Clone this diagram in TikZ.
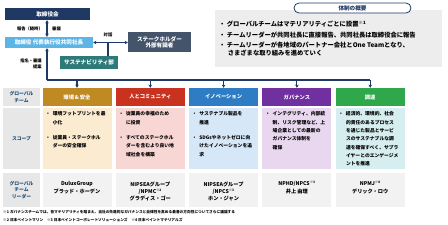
\documentclass[tikz,border=0pt]{standalone}
\usepackage{fontspec}
\setmainfont{Noto Sans CJK JP}
\usetikzlibrary{arrows.meta,calc}
\definecolor{navy}{HTML}{1F3864}
\definecolor{presblue}{HTML}{5BB5E6}
\definecolor{stakegray}{HTML}{44546A}
\definecolor{susteal}{HTML}{2E7A78}
\definecolor{boxgray}{HTML}{EDEDED}
\definecolor{labgray}{HTML}{E7E7E7}
\definecolor{leadgray}{HTML}{F2F2F2}
\definecolor{labtext}{HTML}{1F4E79}
\definecolor{cA}{HTML}{C08A22}
\definecolor{cB}{HTML}{C9321F}
\definecolor{cC}{HTML}{2E7DC4}
\definecolor{cD}{HTML}{7030A0}
\definecolor{cE}{HTML}{2EA84A}
\definecolor{pA}{HTML}{FBEBD0}
\definecolor{pB}{HTML}{F8D6D3}
\definecolor{pC}{HTML}{D6E7F7}
\definecolor{pD}{HTML}{E8D7EE}
\definecolor{pE}{HTML}{D6EEEF}
\newcommand{\scp}[1]{\begin{tabular}{@{}l@{\hspace{2.5pt}}l@{}}#1\end{tabular}}
\begin{document}
\begin{tikzpicture}[x=1pt,y=-1pt,
  box/.style={rectangle,inner sep=0pt,text=white,font=\fontsize{5.6}{6.6}\selectfont\bfseries,align=center},
  conn/.style={draw=navy,line width=1.1pt},
  arr/.style={conn,-{Stealth[length=3.2pt,width=3.6pt]}},
  darr/.style={conn,{Stealth[length=3.2pt,width=3.6pt]}-{Stealth[length=3.2pt,width=3.6pt]}},
  lbl/.style={inner sep=0pt,font=\fontsize{4.3}{5.5}\selectfont\bfseries,text=black},
  head/.style={rectangle,inner sep=0pt,minimum width=69pt,minimum height=18pt,text=white,font=\fontsize{5.3}{6.3}\selectfont\bfseries},
  scopebg/.style={rectangle,inner sep=0pt,minimum width=69pt,minimum height=61pt},
  scopetxt/.style={inner sep=0pt,anchor=north west,font=\fontsize{4.8}{8.3}\selectfont\bfseries,text=black},
  lead/.style={rectangle,inner sep=0pt,minimum width=69pt,minimum height=34pt,fill=leadgray},
  leadtxt/.style={inner sep=0pt,anchor=north,align=center,font=\fontsize{5.2}{7.4}\selectfont\bfseries,text=black},
  labc/.style={rectangle,inner sep=0pt,minimum width=37pt,fill=labgray,align=center,text=labtext,font=\fontsize{4.8}{6.4}\selectfont\bfseries},
  foot/.style={inner sep=0pt,anchor=west,font=\fontsize{3.7}{4.5}\selectfont\bfseries,text=black}
]
\useasboundingbox (0,0) rectangle (448,225);
% top left governance
\node[box,fill=navy,minimum width=85pt,minimum height=12pt] (board) at (47.5,14) {取締役会};
\node[box,fill=presblue,minimum width=88pt,minimum height=11pt] (pres) at (49,42.5) {取締役\ 代表執行役共同社長};
\node[box,fill=stakegray,minimum width=63pt,minimum height=20pt] (stake) at (159.5,42.2) {ステークホルダー\\外部有識者};
\node[box,fill=susteal,minimum width=58pt,minimum height=13pt] (sust) at (89,62.5) {サステナビリティ部};
\draw[darr] (board.south -| 47,0) -- (pres.north -| 47,0);
\node[lbl,anchor=east] (lrep) at (43,28.5) {報告（随時）};
\node[lbl,anchor=west] (ldel) at (52,28.5) {審議};
\coordinate (dlg) at (108,42.5);
\draw[darr] (pres.east) -- (pres.east -| stake.west);
\draw[conn] (dlg) -- (dlg |- sust.north);
\node[lbl] (ltalk) at (108,35) {対話};
\node[lbl,anchor=north east,align=right] (lnom) at (42,59) {指名・審議\\提案};
% bus
\coordinate (bus0) at (47,80);
\coordinate (bus5) at (370.2,80);
\draw[arr] (bus0) -- (bus0 |- pres.south);
\draw[conn] (bus0) -- (bus5);
% overview box
\node[rectangle,fill=boxgray,inner sep=0pt,minimum width=227pt,minimum height=57pt,anchor=north west] (ovbox) at (215,10) {};
\node[rectangle,rounded corners=5pt,draw=navy,line width=0.8pt,fill=white,minimum width=117pt,minimum height=10pt,inner sep=0pt,text=navy,font=\fontsize{5.6}{6.6}\selectfont\bfseries] (ovhead) at (352.5,8) {体制の概要};
\node[inner sep=0pt,anchor=north west,align=left,font=\fontsize{6.3}{7.3}\selectfont\bfseries] (ovtext) at (219,21) {%
・\ グローバルチームはマテリアリティごとに設置\textsuperscript{※1}\\[3.1pt]
・\ チームリーダーが共同社長に直接報告、共同社長は取締役会に報告\\[3.1pt]
・\ チームリーダーが各地域のパートナー会社とOne Teamとなり、\\
\hspace*{8.6pt}さまざまな取り組みを進めていく};
% label column
\node[labc,minimum height=18pt] (lab1) at (21.5,97) {グローバル\\チーム};
\node[labc,minimum height=61pt] (lab2) at (21.5,138.5) {スコープ};
\node[labc,minimum height=34pt] (lab3) at (21.5,190) {グローバル\\チーム\\リーダー};
% headers
\node[head,fill=cA] (h1) at (77,97) {環境\,\&\,安全};
\node[head,fill=cB] (h2) at (150.3,97) {人とコミュニティ};
\node[head,fill=cC] (h3) at (223.6,97) {イノベーション};
\node[head,fill=cD] (h4) at (296.9,97) {ガバナンス};
\node[head,fill=cE] (h5) at (370.2,97) {調達};
\foreach \h in {h1,h2,h3,h4,h5} \draw[arr] (\h.north |- bus0) -- (\h.north);
% scope
\node[scopebg,fill=pA] (s1) at (77,138.5) {};
\node[scopebg,fill=pB] (s2) at (150.3,138.5) {};
\node[scopebg,fill=pC] (s3) at (223.6,138.5) {};
\node[scopebg,fill=pD] (s4) at (296.9,138.5) {};
\node[scopebg,fill=pE] (s5) at (370.2,138.5) {};
\node[scopetxt] (t1) at ($(s1.north west)+(3,2)$) {\fontsize{4.8}{8.3}\selectfont\scp{・&環境フットプリントを最\\&小化\\[7pt]・&従業員・ステークホル\\&ダーの安全確保}};
\node[scopetxt] (t2) at ($(s2.north west)+(3,2)$) {\fontsize{4.8}{8.3}\selectfont\scp{・&従業員の幸福のため\\&に投資\\[7pt]・&すべてのステークホル\\&ダーを含むより良い地\\&域社会を構築}};
\node[scopetxt] (t3) at ($(s3.north west)+(3,2)$) {\fontsize{4.8}{8.3}\selectfont\scp{・&サステナブル製品を\\&推進\\[7pt]・&SDGsやネットゼロに向\\&けたイノベーションを追\\&求}};
\node[scopetxt] (t4) at ($(s4.north west)+(3,2)$) {\fontsize{4.8}{8.3}\selectfont\scp{・&インテグリティ、内部統\\&制、リスク管理など、上\\&場企業としての最新の\\&ガバナンス体制を\\&確保}};
\node[scopetxt] (t5) at ($(s5.north west)+(3,2)$) {\fontsize{4.8}{8.3}\selectfont\scp{・&経済的、環境的、社会\\&的責任のあるプロセス\\&を通じた製品とサービ\\&スのサステナブルな調\\&達を確保すべく、サプラ\\&イヤーとのエンゲージメ\\&ントを推進}};
% leaders
\node[lead] (l1) at (77,190) {};
\node[lead] (l2) at (150.3,190) {};
\node[lead] (l3) at (223.6,190) {};
\node[lead] (l4) at (296.9,190) {};
\node[lead] (l5) at (370.2,190) {};
\newcommand{\nt}[1]{\textsuperscript{\fontsize{3.2}{3.6}\selectfont ※#1}}
\node[leadtxt] (n1) at ($(l1.north)+(0,8.5)$) {DuluxGroup\\ブラッド・ホーデン};
\node[leadtxt] (n2) at ($(l2.north)+(0,8.5)$) {NIPSEAグループ\\/NPMC\nt{2}\\グラディス・ゴー};
\node[leadtxt] (n3) at ($(l3.north)+(0,8.5)$) {NIPSEAグループ\\/NPCS\nt{3}\\ホン・ジャン};
\node[leadtxt] (n4) at ($(l4.north)+(0,8.5)$) {NPHD/NPCS\nt{3}\\井上\ 由理};
\node[leadtxt] (n5) at ($(l5.north)+(0,8.5)$) {NPMJ\nt{4}\\デリック・ロウ};
% footnotes
\node[foot] (f1) at (3,212) {※1\ ガバナンスチームでは、各マテリアリティを踏まえ、当社の先進的なガバナンスと自律性を高める最善の方向性についてさらに議論する};
\node[foot] (f2) at (3,220) {※2\ 日本ペイントマリン\quad ※3\ 日本ペイントコーポレートソリューションズ\quad ※4\ 日本ペイントマテリアルズ};
\end{tikzpicture}
\end{document}
